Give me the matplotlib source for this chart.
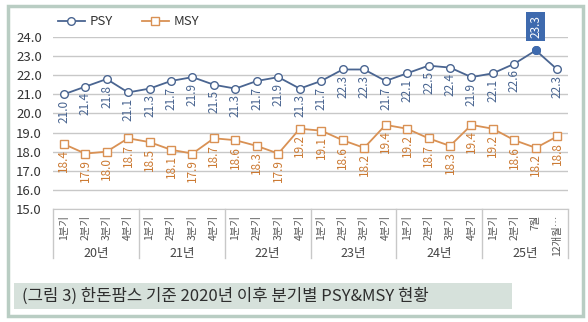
import matplotlib
matplotlib.use("Agg")
import matplotlib.pyplot as plt
from matplotlib.patches import Rectangle
import matplotlib.transforms as mtransforms

plt.rcParams['font.family'] = ['Noto Sans CJK KR', 'DejaVu Sans']

years = ["20년", "21년", "22년", "23년", "24년", "25년"]
periods = ["1분기", "2분기", "3분기", "4분기"] * 5 + ["1분기", "2분기", "7월", "12개월…"]
psy = [21.0, 21.4, 21.8, 21.1, 21.3, 21.7, 21.9, 21.5, 21.3, 21.7, 21.9, 21.3,
       21.7, 22.3, 22.3, 21.7, 22.1, 22.5, 22.4, 21.9, 22.1, 22.6, 23.3, 22.3]
msy = [18.4, 17.9, 18.0, 18.7, 18.5, 18.1, 17.9, 18.7, 18.6, 18.3, 17.9, 19.2,
       19.1, 18.6, 18.2, 19.4, 19.2, 18.7, 18.3, 19.4, 19.2, 18.6, 18.2, 18.8]
highlight_index = 22
title = "(그림 3) 한돈팜스 기준 2020년 이후 분기별 PSY&MSY 현황"

W, H = 588, 322
fig = plt.figure(figsize=(W / 100, H / 100), dpi=100)
fig.patch.set_facecolor("white")

# outer frame
fig.patches.append(Rectangle((8 / W, 6 / H), 575 / W, 310 / H, transform=fig.transFigure,
                             fill=False, edgecolor="#B9CDC3", linewidth=2.5))
# caption band
fig.patches.append(Rectangle((14 / W, (H - 309) / H), 498 / W, 26 / H, transform=fig.transFigure,
                             facecolor="#D6E1DB", edgecolor="none"))
fig.text(22 / W, (H - 296) / H, title, fontsize=12, color="#2E2E2E", va="center", ha="left")

ax = fig.add_axes([53 / W, (H - 209) / H, (568 - 53) / W, (209 - 37) / H])
x = list(range(len(periods)))
ax.set_xlim(-0.5, len(periods) - 0.5)
ax.set_ylim(15, 24)
ax.set_yticks([15 + i for i in range(10)])
ax.set_yticklabels([f"{15 + i:.1f}" for i in range(10)], fontsize=9.5, color="#333333")
ax.grid(axis="y", color="#C8C8C8", linewidth=1)
ax.set_axisbelow(True)
for s in ["top", "right", "left"]:
    ax.spines[s].set_visible(False)
ax.spines["bottom"].set_color("#C8C8C8")
ax.tick_params(axis="y", length=0, pad=8)
ax.tick_params(axis="x", length=0, pad=4)
ax.set_xticks(x)
ax.set_xticklabels(periods, rotation=90, fontsize=7.5, color="#555555", va="top")

psy_color = "#4A6591"
msy_color = "#D99154"
psy_text = "#47638F"
msy_text = "#CC7A33"

ax.plot(x, psy, color=psy_color, lw=1.3, marker="o", ms=5.5, mfc="white", mec=psy_color,
        mew=1, label="PSY", zorder=3)
ax.plot(x, msy, color=msy_color, lw=1.3, marker="s", ms=5.5, mfc="white", mec=msy_color,
        mew=1, label="MSY", zorder=3)
ax.plot([x[highlight_index]], [psy[highlight_index]], marker="o", ms=5.5, color="#3E6AAE", zorder=4)

for i, v in enumerate(psy):
    if i == highlight_index:
        ax.annotate(f"{v:.1f}", (x[i], v), xytext=(0, 9), textcoords="offset points",
                    rotation=90, ha="center", va="bottom", fontsize=8.5, color="white",
                    bbox=dict(boxstyle="square,pad=0.25", facecolor="#3E6AAE", edgecolor="none"),
                    annotation_clip=False)
    else:
        ax.annotate(f"{v:.1f}", (x[i], v), xytext=(0, -4), textcoords="offset points",
                    rotation=90, ha="center", va="top", fontsize=8.5, color=psy_text)
for i, v in enumerate(msy):
    ax.annotate(f"{v:.1f}", (x[i], v), xytext=(0, -4), textcoords="offset points",
                rotation=90, ha="center", va="top", fontsize=8.5, color=msy_text)

# multi-level category axis
trans = mtransforms.blended_transform_factory(ax.transData, ax.transAxes)
ybot = -49 / 172
for b in [-0.5, 3.5, 7.5, 11.5, 15.5, 19.5, 23.5]:
    ax.plot([b, b], [0, ybot], transform=trans, color="#C8C8C8", lw=1, clip_on=False)
for g, yl in enumerate(years):
    ax.text(g * 4 + 1.5, -44 / 172, yl, transform=trans, ha="center", va="center",
            fontsize=9, color="#444444")

leg = ax.legend(loc="lower left", bbox_to_anchor=(0.0, 1.02), ncol=2, frameon=False,
                fontsize=9.5, handlelength=2.0, columnspacing=2.2, borderaxespad=0,
                handletextpad=0.4)
for t in leg.get_texts():
    t.set_color("#333333")

fig.savefig("out.png", dpi=100, facecolor="white")
